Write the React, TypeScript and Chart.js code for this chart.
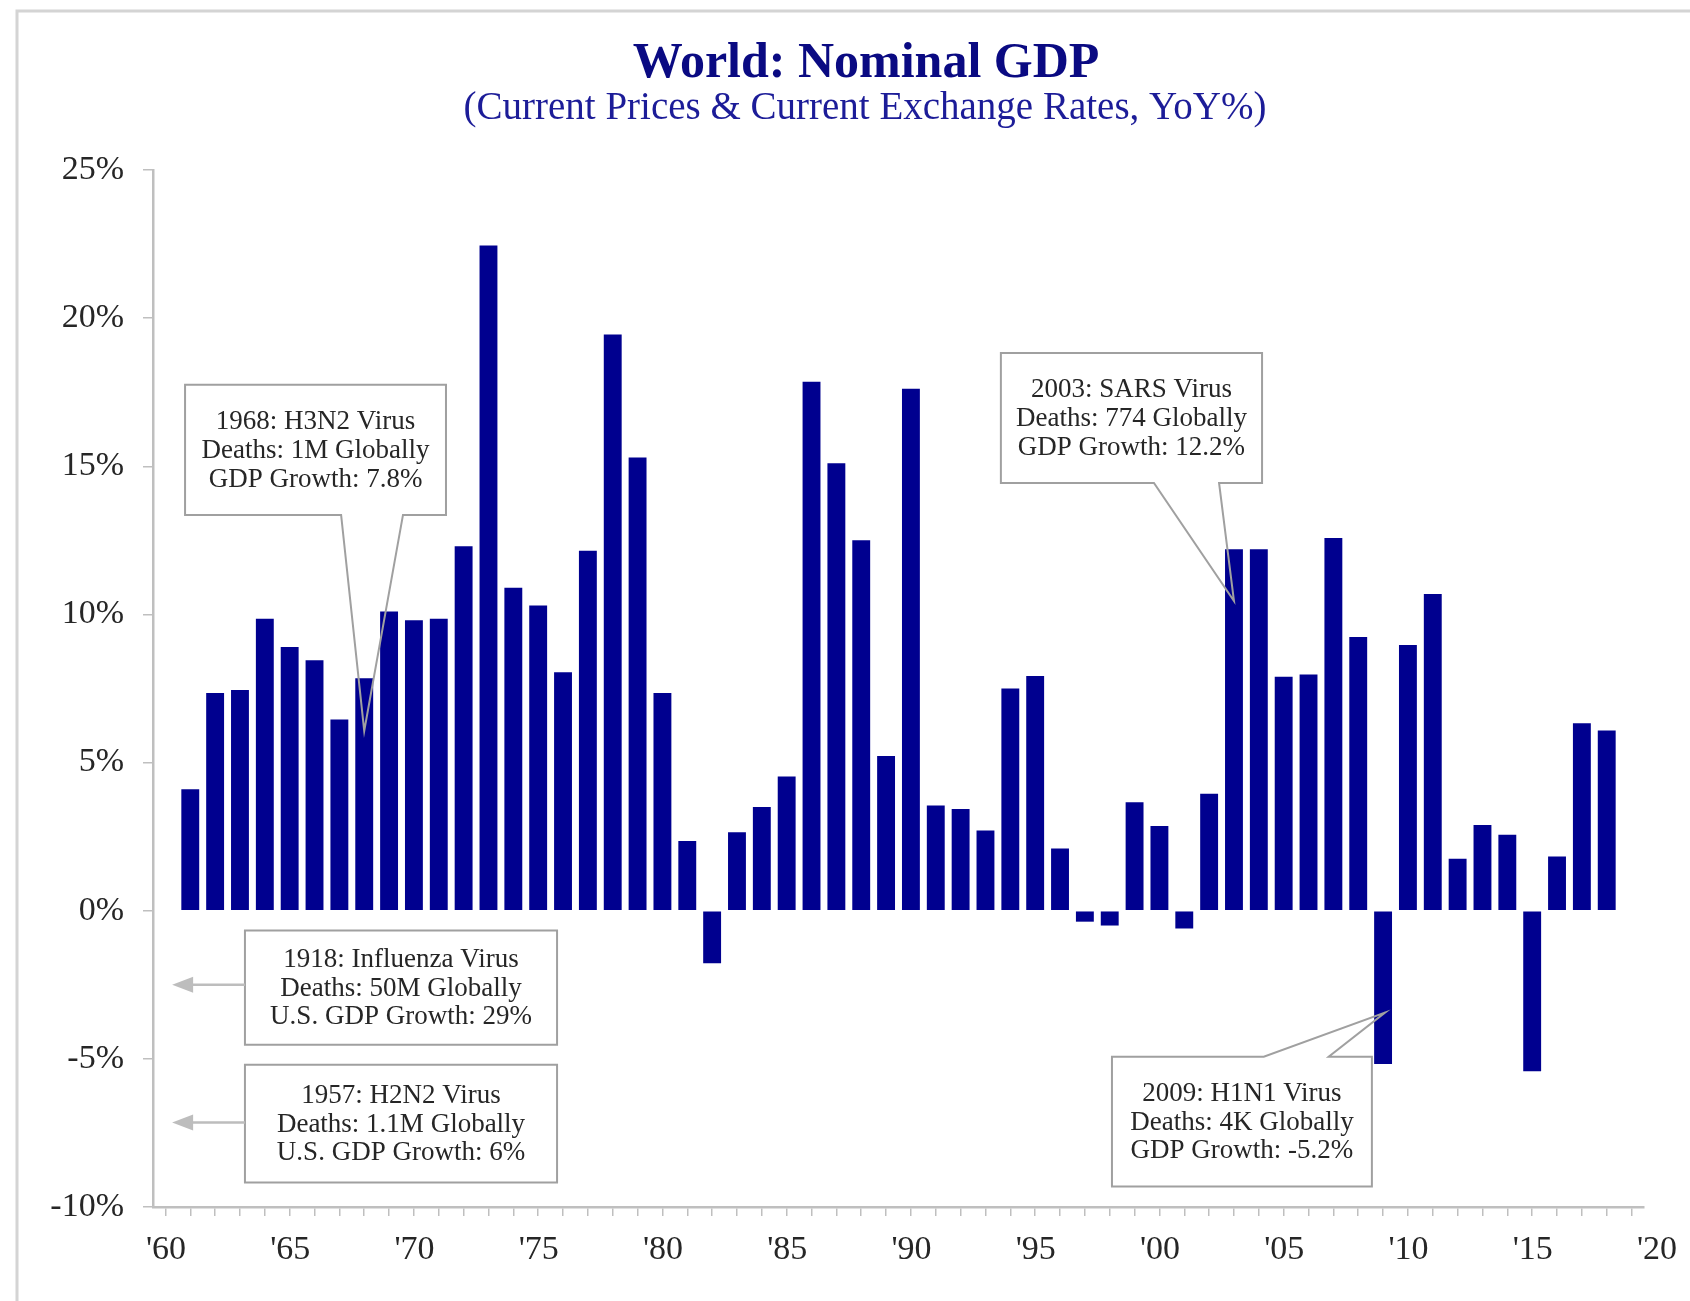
import React, { useEffect, useRef } from 'react';
import { Chart, registerables } from 'chart.js';

Chart.register(...registerables);

const FONT = '"Liberation Serif", "Times New Roman", serif';

// ---- data ----
const years = [
  1961, 1962, 1963, 1964, 1965, 1966, 1967, 1968, 1969, 1970,
  1971, 1972, 1973, 1974, 1975, 1976, 1977, 1978, 1979, 1980,
  1981, 1982, 1983, 1984, 1985, 1986, 1987, 1988, 1989, 1990,
  1991, 1992, 1993, 1994, 1995, 1996, 1997, 1998, 1999, 2000,
  2001, 2002, 2003, 2004, 2005, 2006, 2007, 2008, 2009, 2010,
  2011, 2012, 2013, 2014, 2015, 2016, 2017, 2018,
];
const gdpGrowth = [
  4.1, 7.35, 7.45, 9.85, 8.9, 8.45, 6.45, 7.85, 10.1, 9.8,
  9.85, 12.3, 22.45, 10.9, 10.3, 8.05, 12.15, 19.45, 15.3, 7.35,
  2.35, -1.77, 2.65, 3.5, 4.53, 17.85, 15.1, 12.5, 5.22, 17.62,
  3.55, 3.43, 2.71, 7.5, 7.92, 2.1, -0.37, -0.5, 3.66, 2.86,
  -0.6, 3.95, 12.2, 12.2, 7.9, 7.97, 12.58, 9.24, -5.17, 8.97,
  10.69, 1.75, 2.89, 2.56, -5.42, 1.83, 6.33, 6.08,
];
const xTickYears = [1960, 1965, 1970, 1975, 1980, 1985, 1990, 1995, 2000, 2005, 2010, 2015, 2020];
const xTickLabels = ["'60", "'65", "'70", "'75", "'80", "'85", "'90", "'95", "'00", "'05", "'10", "'15", "'20"];
const yTickSuffix = '%';

const titleText = 'World: Nominal GDP';
const subtitleText = '(Current Prices & Current Exchange Rates, YoY%)';

// Annotation boxes in data units (x = year, y = %)
const notes = [
  {
    lines: ['1968: H3N2 Virus', 'Deaths: 1M Globally', 'GDP Growth: 7.8%'],
    x0: 1961.29, x1: 1971.79, yTop: 17.75, yBottom: 13.36,
    wedge: 'bottom', b1: 1967.57, b2: 1970.06, tipX: 1968.5, tipY: 6.07,
  },
  {
    lines: ['2003: SARS Virus', 'Deaths: 774 Globally', 'GDP Growth: 12.2%'],
    x0: 1994.12, x1: 2004.63, yTop: 18.82, yBottom: 14.44,
    wedge: 'bottom', b1: 2000.28, b2: 2002.9, tipX: 2003.5, tipY: 10.45,
  },
  {
    lines: ['1918: Influenza Virus', 'Deaths: 50M Globally', 'U.S. GDP Growth: 29%'],
    x0: 1963.7, x1: 1976.26, yTop: -0.67, yBottom: -4.52,
    wedge: 'arrow', tipX: 1960.77, tipY: -2.5,
  },
  {
    lines: ['1957: H2N2 Virus', 'Deaths: 1.1M Globally', 'U.S. GDP Growth: 6%'],
    x0: 1963.7, x1: 1976.26, yTop: -5.2, yBottom: -9.17,
    wedge: 'arrow', tipX: 1960.77, tipY: -7.15,
  },
  {
    lines: ['2009: H1N1 Virus', 'Deaths: 4K Globally', 'GDP Growth: -5.2%'],
    x0: 1998.59, x1: 2009.05, yTop: -4.93, yBottom: -9.31,
    wedge: 'top', b1: 2004.7, b2: 2007.31, tipX: 2009.58, tipY: -3.44,
  },
];

const backgroundPlugin = {
  id: 'bgFrame',
  beforeDraw(chart: any) {
    const { ctx, width, height } = chart;
    ctx.save();
    ctx.fillStyle = '#ffffff';
    ctx.fillRect(0, 0, width, height);
    ctx.strokeStyle = '#d4d4d4';
    ctx.lineWidth = 3;
    ctx.beginPath();
    ctx.moveTo(17, height);
    ctx.lineTo(17, 11);
    ctx.lineTo(width, 11);
    ctx.stroke();
    ctx.restore();
  },
  afterDraw(chart: any) {
    const { ctx } = chart;
    ctx.save();
    ctx.textAlign = 'center';
    ctx.textBaseline = 'alphabetic';
    ctx.fillStyle = '#0a0a82';
    ctx.font = `bold 50px ${FONT}`;
    ctx.fillText(titleText, 866, 77);
    ctx.fillStyle = '#1c1c98';
    ctx.font = `39px ${FONT}`;
    ctx.fillText(subtitleText, 865, 119);
    ctx.restore();
  },
};

const notesPlugin = {
  id: 'pandemicNotes',
  afterDatasetsDraw(chart: any) {
    const { ctx } = chart;
    const xs = chart.scales.x;
    const ys = chart.scales.y;
    ctx.save();
    for (const n of notes) {
      const L = xs.getPixelForValue(n.x0);
      const R = xs.getPixelForValue(n.x1);
      const T = ys.getPixelForValue(n.yTop);
      const B = ys.getPixelForValue(n.yBottom);
      const tx = xs.getPixelForValue(n.tipX);
      const ty = ys.getPixelForValue(n.tipY);
      ctx.fillStyle = '#ffffff';
      ctx.fillRect(L, T, R - L, B - T);
      ctx.strokeStyle = '#a0a0a0';
      ctx.lineWidth = 2;
      ctx.lineJoin = 'miter';
      ctx.beginPath();
      if (n.wedge === 'bottom') {
        const p1 = xs.getPixelForValue(n.b1);
        const p2 = xs.getPixelForValue(n.b2);
        ctx.moveTo(L, T);
        ctx.lineTo(R, T);
        ctx.lineTo(R, B);
        ctx.lineTo(p2, B);
        ctx.lineTo(tx, ty);
        ctx.lineTo(p1, B);
        ctx.lineTo(L, B);
        ctx.closePath();
        ctx.stroke();
      } else if (n.wedge === 'top') {
        const p1 = xs.getPixelForValue(n.b1);
        const p2 = xs.getPixelForValue(n.b2);
        ctx.moveTo(L, T);
        ctx.lineTo(p1, T);
        ctx.lineTo(tx, ty);
        ctx.lineTo(p2, T);
        ctx.lineTo(R, T);
        ctx.lineTo(R, B);
        ctx.lineTo(L, B);
        ctx.closePath();
        ctx.stroke();
      } else {
        ctx.rect(L, T, R - L, B - T);
        ctx.stroke();
        // arrow pointing left
        ctx.strokeStyle = '#bdbdbd';
        ctx.lineWidth = 2.5;
        ctx.beginPath();
        ctx.moveTo(L, ty);
        ctx.lineTo(tx + 18, ty);
        ctx.stroke();
        ctx.fillStyle = '#bdbdbd';
        ctx.beginPath();
        ctx.moveTo(tx, ty);
        ctx.lineTo(tx + 21, ty - 8);
        ctx.lineTo(tx + 21, ty + 8);
        ctx.closePath();
        ctx.fill();
      }
      ctx.fillStyle = '#262626';
      ctx.font = `27px ${FONT}`;
      ctx.textAlign = 'center';
      ctx.textBaseline = 'middle';
      const cx = (L + R) / 2;
      const cy = (T + B) / 2;
      const lh = 28.7;
      n.lines.forEach((line, i) => {
        ctx.fillText(line, cx, cy + (i - (n.lines.length - 1) / 2) * lh + 1);
      });
    }
    ctx.restore();
  },
};

export default function App() {
  const canvasRef = useRef<HTMLCanvasElement | null>(null);

  useEffect(() => {
    document.body.style.margin = '0';
    document.body.style.overflow = 'hidden';
    const canvas = canvasRef.current;
    if (!canvas) return;
    const axisColor = '#bfbfbf';
    const chart = new Chart(canvas, {
      type: 'bar',
      data: {
        datasets: [
          {
            label: 'World Nominal GDP YoY%',
            data: years.map((yr, i) => ({ x: yr + 0.5, y: gdpGrowth[i] })),
            backgroundColor: '#00008f',
            borderWidth: 0,
            barPercentage: 0.72,
            categoryPercentage: 1,
          } as any,
        ],
      },
      options: {
        animation: false,
        responsive: false,
        devicePixelRatio: 1,
        layout: { padding: { left: 0, right: 46, top: 170, bottom: 14 } },
        plugins: {
          legend: { display: false },
          tooltip: { enabled: false },
          title: { display: false },
        },
        scales: {
          x: {
            type: 'linear',
            min: 1960,
            max: 2020,
            offset: false,
            grid: {
              drawOnChartArea: false,
              drawTicks: true,
              tickLength: 9,
              color: axisColor,
              lineWidth: 1.5,
            },
            border: { display: true, color: axisColor, width: 2.5 },
            ticks: {
              stepSize: 1,
              autoSkip: false,
              maxRotation: 0,
              minRotation: 0,
              padding: 14,
              labelOffset: 13,
              color: '#262626',
              font: { family: FONT, size: 34 },
              callback: (v: any) => {
                const idx = xTickYears.indexOf(Math.round(Number(v)));
                return idx >= 0 ? xTickLabels[idx] : '';
              },
            },
            afterFit: (s: any) => {
              s.height = 80;
              s.paddingLeft = 0;
              s.paddingRight = 0;
            },
          } as any,
          y: {
            min: -10,
            max: 25,
            grid: {
              drawOnChartArea: false,
              drawTicks: true,
              tickLength: 10,
              color: axisColor,
              lineWidth: 1.5,
            },
            border: { display: true, color: axisColor, width: 2.5 },
            ticks: {
              stepSize: 5,
              padding: 19,
              color: '#262626',
              font: { family: FONT, size: 34 },
              callback: (v: any) => `${v}${yTickSuffix}`,
            },
            afterFit: (s: any) => {
              s.width = 153;
            },
          } as any,
        },
      },
      plugins: [backgroundPlugin, notesPlugin],
    });
    return () => chart.destroy();
  }, []);

  return (
    <div style={{ position: 'absolute', left: 0, top: 0, width: 1690, height: 1301 }}>
      <canvas ref={canvasRef} width={1690} height={1301} style={{ width: 1690, height: 1301, display: 'block' }} />
    </div>
  );
}
